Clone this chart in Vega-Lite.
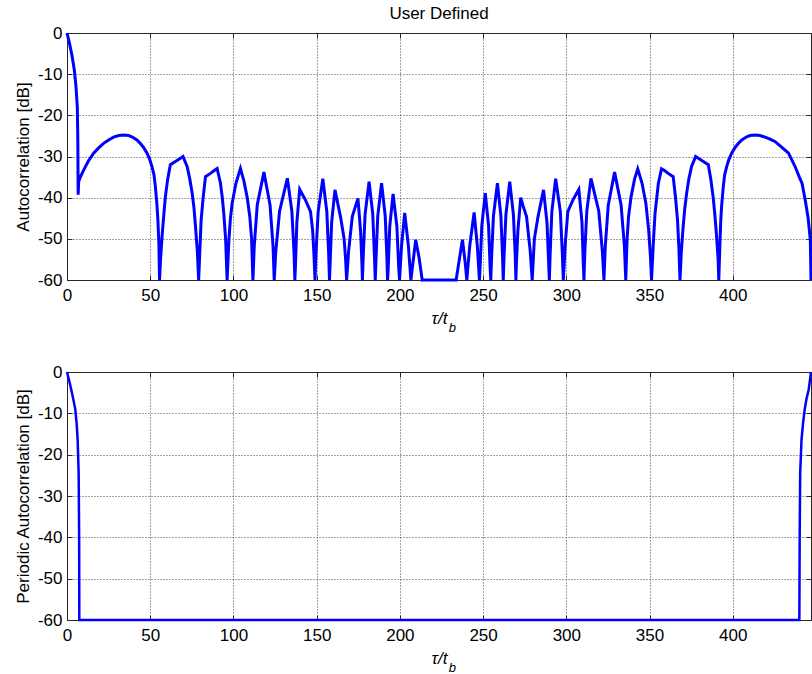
{
  "$schema": "https://vega.github.io/schema/vega-lite/v6.json",
  "background": "white",
  "padding": {"left": 13, "top": 4, "right": 0, "bottom": 0},
  "config": {
    "font": "Liberation Sans",
    "view": {"stroke": "#262626", "strokeWidth": 1},
    "axis": {
      "domainColor": "#262626",
      "tickColor": "#262626",
      "tickSize": -5,
      "labelColor": "#000000",
      "titleColor": "#000000",
      "labelFont": "Liberation Sans",
      "titleFont": "Liberation Sans",
      "labelFontSize": 17,
      "titleFontSize": 17,
      "titleFontWeight": "normal",
      "grid": true,
      "gridColor": "#333333",
      "gridDash": [1, 2],
      "gridOpacity": 0.9,
      "labelFlush": false,
      "labelOverlap": false,
      "labelExpr": "'' + datum.value"
    },
    "axisX": {"labelPadding": 12, "titlePadding": 7, "titleFontStyle": "italic"},
    "axisY": {"labelPadding": 10, "titlePadding": 5},
    "title": {"fontSize": 17, "fontWeight": "normal", "color": "#000000", "font": "Liberation Sans", "offset": 1}
  },
  "datasets": {
    "acf": [
      {"lag": 0, "db": 0}, {"lag": 1.5, "db": -2.5}, {"lag": 3, "db": -5.5}, {"lag": 4.4, "db": -9}, {"lag": 5.4, "db": -13},
      {"lag": 6.2, "db": -18}, {"lag": 6.5, "db": -26}, {"lag": 6.7, "db": -39.3}, {"lag": 7, "db": -36.1}, {"lag": 8, "db": -35},
      {"lag": 10, "db": -33.3}, {"lag": 13, "db": -31}, {"lag": 16, "db": -29.2}, {"lag": 19, "db": -27.9}, {"lag": 22, "db": -26.8},
      {"lag": 25, "db": -26}, {"lag": 28, "db": -25.3}, {"lag": 31, "db": -24.9}, {"lag": 34, "db": -24.8}, {"lag": 37, "db": -24.9},
      {"lag": 39, "db": -25.2}, {"lag": 42, "db": -26}, {"lag": 44, "db": -26.8}, {"lag": 46, "db": -27.8}, {"lag": 48.1, "db": -29.2},
      {"lag": 49.8, "db": -30.8}, {"lag": 51.1, "db": -32.5}, {"lag": 52.3, "db": -34.5}, {"lag": 53.1, "db": -37.3}, {"lag": 54, "db": -41.5},
      {"lag": 54.6, "db": -45.4}, {"lag": 55.2, "db": -51}, {"lag": 55.6, "db": -60}, {"lag": 56.2, "db": -55}, {"lag": 57.1, "db": -49.5},
      {"lag": 58.2, "db": -44}, {"lag": 59.1, "db": -39.8}, {"lag": 60.5, "db": -35.5}, {"lag": 62.1, "db": -32}, {"lag": 65.1, "db": -31.2},
      {"lag": 67.5, "db": -30.6}, {"lag": 69.7, "db": -30}, {"lag": 72.2, "db": -32.5}, {"lag": 73.8, "db": -35.5}, {"lag": 75.2, "db": -38.9},
      {"lag": 76.3, "db": -42.5}, {"lag": 77.2, "db": -47}, {"lag": 78.3, "db": -53}, {"lag": 79.1, "db": -60}, {"lag": 79.9, "db": -52},
      {"lag": 80.6, "db": -45.4}, {"lag": 81.8, "db": -40}, {"lag": 83.2, "db": -34.9}, {"lag": 86.2, "db": -34.1}, {"lag": 88.5, "db": -33.4},
      {"lag": 90.2, "db": -32.9}, {"lag": 92.2, "db": -36.5}, {"lag": 93.3, "db": -40}, {"lag": 94.2, "db": -43.8}, {"lag": 95.3, "db": -50},
      {"lag": 96.2, "db": -60}, {"lag": 97.3, "db": -50}, {"lag": 98.2, "db": -45}, {"lag": 99.2, "db": -41.4}, {"lag": 101.5, "db": -36.5},
      {"lag": 104.2, "db": -32.9}, {"lag": 106.3, "db": -36}, {"lag": 108.2, "db": -39.8}, {"lag": 109.8, "db": -44.5}, {"lag": 110.9, "db": -50},
      {"lag": 111.7, "db": -60}, {"lag": 112.5, "db": -51.8}, {"lag": 114.3, "db": -41.8}, {"lag": 118.3, "db": -33.8}, {"lag": 122.0, "db": -41.8},
      {"lag": 123.8, "db": -51.8}, {"lag": 124.5, "db": -60}, {"lag": 125.4, "db": -53.3}, {"lag": 127.7, "db": -43.3}, {"lag": 132.4, "db": -35.3},
      {"lag": 135.1, "db": -43.3}, {"lag": 136.4, "db": -53.3}, {"lag": 136.9, "db": -60}, {"lag": 137.3, "db": -56}, {"lag": 138.1, "db": -46},
      {"lag": 139.8, "db": -38}, {"lag": 143.3, "db": -40.6}, {"lag": 146.3, "db": -43.4}, {"lag": 147.6, "db": -48}, {"lag": 148.4, "db": -54},
      {"lag": 149, "db": -60}, {"lag": 149.6, "db": -53.4}, {"lag": 150.9, "db": -43.4}, {"lag": 153.7, "db": -35.4}, {"lag": 156.1, "db": -43.4},
      {"lag": 157.2, "db": -53.4}, {"lag": 157.7, "db": -60}, {"lag": 158.1, "db": -56}, {"lag": 159, "db": -46}, {"lag": 161, "db": -38.1},
      {"lag": 164.3, "db": -44.6}, {"lag": 166.5, "db": -50}, {"lag": 167.4, "db": -55}, {"lag": 168, "db": -60}, {"lag": 169.2, "db": -53},
      {"lag": 171.4, "db": -44.6}, {"lag": 173.4, "db": -42}, {"lag": 174.8, "db": -40.2}, {"lag": 176.4, "db": -48.2}, {"lag": 177.2, "db": -56},
      {"lag": 177.5, "db": -60}, {"lag": 178, "db": -54}, {"lag": 179.1, "db": -44}, {"lag": 181.5, "db": -36.1}, {"lag": 183.7, "db": -44},
      {"lag": 184.7, "db": -54}, {"lag": 185.2, "db": -60}, {"lag": 185.7, "db": -54.5}, {"lag": 186.7, "db": -44.5}, {"lag": 189, "db": -36.5},
      {"lag": 191.2, "db": -44.5}, {"lag": 192.2, "db": -54.5}, {"lag": 192.6, "db": -60}, {"lag": 193, "db": -57}, {"lag": 193.9, "db": -47},
      {"lag": 195.9, "db": -39.1}, {"lag": 198.2, "db": -47}, {"lag": 199.3, "db": -57}, {"lag": 199.8, "db": -60}, {"lag": 201, "db": -51.7},
      {"lag": 202.9, "db": -43.7}, {"lag": 205.1, "db": -51.7}, {"lag": 206.6, "db": -60}, {"lag": 207.8, "db": -56}, {"lag": 209.5, "db": -50.2},
      {"lag": 211.5, "db": -54.5}, {"lag": 213.4, "db": -60}, {"lag": 233.8, "db": -60}, {"lag": 235.9, "db": -54.5}, {"lag": 237.6, "db": -50.2},
      {"lag": 239.3, "db": -56}, {"lag": 240.2, "db": -60}, {"lag": 242.0, "db": -51.6}, {"lag": 244.6, "db": -43.6}, {"lag": 246.5, "db": -51.6},
      {"lag": 247.8, "db": -60}, {"lag": 248.2, "db": -56.9}, {"lag": 249.2, "db": -46.9}, {"lag": 251.3, "db": -38.9}, {"lag": 253.3, "db": -46.9},
      {"lag": 254.2, "db": -56.9}, {"lag": 254.6, "db": -60}, {"lag": 255.1, "db": -54.5}, {"lag": 256.2, "db": -44.5}, {"lag": 258.6, "db": -36.5},
      {"lag": 260.7, "db": -44.5}, {"lag": 261.7, "db": -54.5}, {"lag": 262.1, "db": -60}, {"lag": 262.6, "db": -54.1}, {"lag": 263.7, "db": -44.1},
      {"lag": 266, "db": -36.1}, {"lag": 268.2, "db": -44.1}, {"lag": 269.3, "db": -54.1}, {"lag": 269.7, "db": -60}, {"lag": 270.0, "db": -56},
      {"lag": 270.9, "db": -48}, {"lag": 272.6, "db": -40}, {"lag": 274, "db": -42}, {"lag": 276.1, "db": -44.6}, {"lag": 278.3, "db": -53},
      {"lag": 279.5, "db": -60}, {"lag": 280.8, "db": -50}, {"lag": 283, "db": -44.6}, {"lag": 286.3, "db": -38.1}, {"lag": 288.4, "db": -46.1},
      {"lag": 289.4, "db": -56.1}, {"lag": 289.8, "db": -60}, {"lag": 290.3, "db": -53.4}, {"lag": 291.3, "db": -43.4}, {"lag": 293.6, "db": -35.4},
      {"lag": 296.4, "db": -43.4}, {"lag": 297.6, "db": -53.4}, {"lag": 298.2, "db": -60}, {"lag": 299.4, "db": -51}, {"lag": 300.9, "db": -43.4},
      {"lag": 303.9, "db": -40.6}, {"lag": 307.5, "db": -38}, {"lag": 309.4, "db": -46}, {"lag": 310.2, "db": -56}, {"lag": 310.6, "db": -60},
      {"lag": 311.1, "db": -53.3}, {"lag": 312.3, "db": -43.3}, {"lag": 314.8, "db": -35.3}, {"lag": 319.5, "db": -43.3}, {"lag": 321.7, "db": -53.3},
      {"lag": 322.6, "db": -60}, {"lag": 323.4, "db": -51.8}, {"lag": 325.2, "db": -41.8}, {"lag": 329, "db": -33.8}, {"lag": 332.9, "db": -41.8},
      {"lag": 334.9, "db": -51.8}, {"lag": 335.7, "db": -60}, {"lag": 336.5, "db": -50}, {"lag": 337.4, "db": -44.5}, {"lag": 338.9, "db": -39.8},
      {"lag": 341, "db": -35.5}, {"lag": 342.9, "db": -33}, {"lag": 345.5, "db": -36.5}, {"lag": 347.8, "db": -41.4}, {"lag": 349.5, "db": -48},
      {"lag": 350.5, "db": -54}, {"lag": 351.2, "db": -60}, {"lag": 352.4, "db": -50}, {"lag": 353.3, "db": -43.8}, {"lag": 355.3, "db": -36.5},
      {"lag": 357.2, "db": -33}, {"lag": 359, "db": -33.4}, {"lag": 361.2, "db": -34.1}, {"lag": 364.2, "db": -34.9}, {"lag": 365.6, "db": -40},
      {"lag": 366.8, "db": -45.4}, {"lag": 367.6, "db": -52}, {"lag": 368.3, "db": -60}, {"lag": 369.1, "db": -53}, {"lag": 370.2, "db": -47},
      {"lag": 371.2, "db": -42.5}, {"lag": 372.3, "db": -38.9}, {"lag": 373.6, "db": -35.5}, {"lag": 375.2, "db": -32.5}, {"lag": 377.7, "db": -30},
      {"lag": 380, "db": -30.6}, {"lag": 382.3, "db": -31.2}, {"lag": 385.3, "db": -32}, {"lag": 386.8, "db": -35.5}, {"lag": 388.2, "db": -39.8},
      {"lag": 389.2, "db": -44}, {"lag": 390.3, "db": -49.5}, {"lag": 391.2, "db": -55}, {"lag": 391.6, "db": -60}, {"lag": 392.3, "db": -51},
      {"lag": 392.8, "db": -45.4}, {"lag": 393.4, "db": -41.5}, {"lag": 394.3, "db": -37.3}, {"lag": 395.1, "db": -34.5}, {"lag": 396.3, "db": -32.5},
      {"lag": 397.6, "db": -30.8}, {"lag": 399.3, "db": -29.2}, {"lag": 401.4, "db": -27.8}, {"lag": 403.4, "db": -26.8}, {"lag": 405.4, "db": -26},
      {"lag": 408.4, "db": -25.2}, {"lag": 410.4, "db": -24.9}, {"lag": 413.4, "db": -24.8}, {"lag": 416.4, "db": -24.9}, {"lag": 419.4, "db": -25.3},
      {"lag": 422.4, "db": -25.8}, {"lag": 425.5, "db": -26.4}, {"lag": 429.5, "db": -27.8}, {"lag": 433.5, "db": -29.2}, {"lag": 437.5, "db": -32.5},
      {"lag": 440, "db": -35}, {"lag": 441.6, "db": -36.5}, {"lag": 443.5, "db": -40.5}, {"lag": 445.3, "db": -45}, {"lag": 446.6, "db": -50.3},
      {"lag": 447, "db": -60}
    ],
    "pacf": [
      {"lag": 0, "db": 0}, {"lag": 1.5, "db": -2.4}, {"lag": 3, "db": -5.1}, {"lag": 4, "db": -7}, {"lag": 5, "db": -9.1},
      {"lag": 5.8, "db": -12.5}, {"lag": 6.4, "db": -16.4}, {"lag": 7, "db": -24.5}, {"lag": 7.3, "db": -40}, {"lag": 7.4, "db": -60},
      {"lag": 440, "db": -60}, {"lag": 440.2, "db": -40}, {"lag": 440.5, "db": -24.5}, {"lag": 441.3, "db": -16.4}, {"lag": 442.2, "db": -12.5},
      {"lag": 443.2, "db": -9.1}, {"lag": 444.3, "db": -6.5}, {"lag": 445.6, "db": -4.3}, {"lag": 447, "db": 0}
    ],
    "sub": [{"s": "b"}]
  },
  "spacing": 26,
  "vconcat": [
    {
      "title": "User Defined",
      "width": 744,
      "height": 247,
      "resolve": {"axis": {"x": "independent", "y": "independent"}},
      "layer": [
        {
          "data": {"name": "acf"},
          "mark": {"type": "line", "color": "#0000ff", "strokeWidth": 3},
          "encoding": {
            "x": {"field": "lag", "type": "quantitative", "scale": {"domain": [0, 447], "nice": false},
                  "axis": {"values": [0, 50, 100, 150, 200, 250, 300, 350, 400], "title": "τ/t"}},
            "y": {"field": "db", "type": "quantitative", "scale": {"domain": [-60, 0], "nice": false},
                  "axis": {"values": [-60, -50, -40, -30, -20, -10, 0], "title": "Autocorrelation [dB]"}}
          }
        },
        {
          "data": {"name": "sub"},
          "mark": {"type": "text", "fontStyle": "italic", "fontSize": 13, "font": "Liberation Sans", "color": "#000000", "baseline": "middle", "align": "center"},
          "encoding": {
            "x": {"datum": 231.5, "type": "quantitative",
                  "axis": {"orient": "top", "values": [0, 50, 100, 150, 200, 250, 300, 350, 400], "labels": false, "grid": false, "domain": false, "title": null}},
            "y": {"datum": -71.7, "type": "quantitative",
                  "axis": {"orient": "right", "values": [-60, -50, -40, -30, -20, -10, 0], "labels": false, "grid": false, "domain": false, "title": null}},
            "text": {"field": "s"}
          }
        }
      ]
    },
    {
      "width": 744,
      "height": 248,
      "resolve": {"axis": {"x": "independent", "y": "independent"}},
      "layer": [
        {
          "data": {"name": "pacf"},
          "mark": {"type": "line", "color": "#0000ff", "strokeWidth": 2.5},
          "encoding": {
            "x": {"field": "lag", "type": "quantitative", "scale": {"domain": [0, 447], "nice": false},
                  "axis": {"values": [0, 50, 100, 150, 200, 250, 300, 350, 400], "title": "τ/t"}},
            "y": {"field": "db", "type": "quantitative", "scale": {"domain": [-60, 0], "nice": false},
                  "axis": {"values": [-60, -50, -40, -30, -20, -10, 0], "title": "Periodic Autocorrelation [dB]"}}
          }
        },
        {
          "data": {"name": "sub"},
          "mark": {"type": "text", "fontStyle": "italic", "fontSize": 13, "font": "Liberation Sans", "color": "#000000", "baseline": "middle", "align": "center"},
          "encoding": {
            "x": {"datum": 231.5, "type": "quantitative",
                  "axis": {"orient": "top", "values": [0, 50, 100, 150, 200, 250, 300, 350, 400], "labels": false, "grid": false, "domain": false, "title": null}},
            "y": {"datum": -71.7, "type": "quantitative",
                  "axis": {"orient": "right", "values": [-60, -50, -40, -30, -20, -10, 0], "labels": false, "grid": false, "domain": false, "title": null}},
            "text": {"field": "s"}
          }
        }
      ]
    }
  ]
}
